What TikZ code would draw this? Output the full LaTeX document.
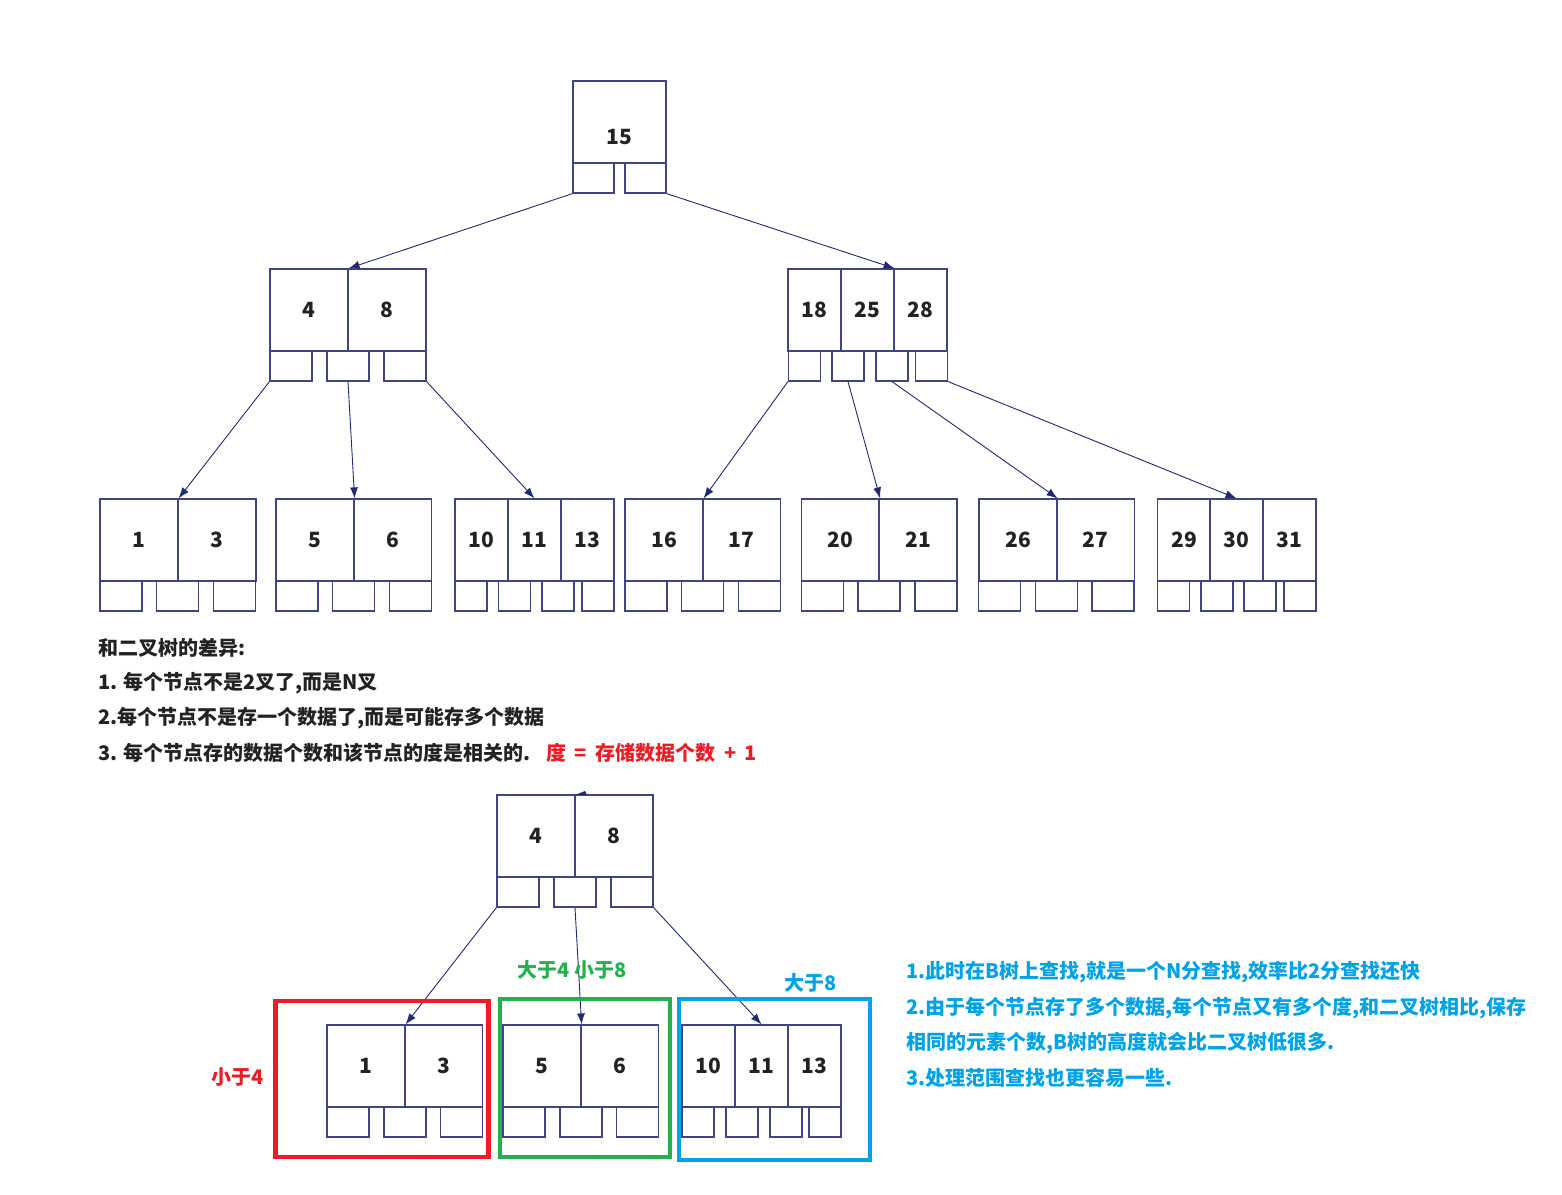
\documentclass[tikz,border=0pt]{standalone}
\usepackage{fontspec}
\setmainfont{Noto Sans CJK SC}
\usetikzlibrary{arrows.meta}

\definecolor{boxline}{RGB}{62,68,132}
\definecolor{arrowline}{RGB}{32,42,112}
\definecolor{ink}{RGB}{34,34,34}
\definecolor{mred}{RGB}{237,28,36}
\definecolor{mgreen}{RGB}{34,177,76}
\definecolor{mblue}{RGB}{0,162,232}

\begin{document}
\begin{tikzpicture}[x=1pt, y=-1pt,
  font=\fontsize{20}{24}\selectfont\bfseries,
  keybox/.style={draw=boxline, line width=1.2pt, minimum height=82pt, inner sep=0pt,
    text=ink, font=\fontsize{21}{24}\selectfont\bfseries},
  key2/.style={keybox, minimum width=78pt},
  key3/.style={keybox, minimum width=53pt},
  subbox/.style={draw=boxline, line width=1.2pt, minimum height=30pt, inner sep=0pt},
  sub2/.style={subbox, minimum width=42pt},
  sub3/.style={subbox, minimum width=32pt},
  link/.style={draw=arrowline, line width=0.9pt, -{Latex[length=11pt,width=8pt]}},
  note/.style={anchor=west, inner sep=0pt, text=ink},
  frame/.style={line width=4.5pt}]
\useasboundingbox (0,0) rectangle (1562,1194);

% Root
\node[keybox, minimum width=93pt] (r15) at (619.5,122) {};
\node[text=ink, font=\fontsize{21}{24}\selectfont\bfseries] (t15) at ([yshift=-15pt]r15.center) {15};
\node[sub2, minimum width=41pt] (s15a) at (593.5,178) {};
\node[sub2, minimum width=41pt] (s15b) at (645.5,178) {};

% Second level, left
\node[key2] (k4) at (309,310) {4};
\node[key2] (k8) at (387,310) {8};
\node[sub2] (s48a) at (291,366) {};
\node[sub2] (s48b) at (348,366) {};
\node[sub2] (s48c) at (405,366) {};

% Second level, right
\node[key3] (k18) at (814.5,310) {18};
\node[key3] (k25) at (867.5,310) {25};
\node[key3] (k28) at (920.5,310) {28};
\node[sub3] (s1828a) at (804.5,366) {};
\node[sub3] (s1828b) at (848,366) {};
\node[sub3] (s1828c) at (892,366) {};
\node[sub3] (s1828d) at (931.5,366) {};

% Leaves
\node[key2] (k1) at (139,540) {1};
\node[key2] (k3) at (217,540) {3};
\node[sub2] (s13a) at (121,596) {};
\node[sub2] (s13b) at (177.5,596) {};
\node[sub2] (s13c) at (234.5,596) {};

\node[key2] (k5) at (315,540) {5};
\node[key2] (k6) at (392.5,540) {6};
\node[sub2] (s56a) at (297,596) {};
\node[sub2] (s56b) at (353.5,596) {};
\node[sub2] (s56c) at (410.5,596) {};

\node[key3] (k10) at (481.5,540) {10};
\node[key3] (k11) at (534.5,540) {11};
\node[key3] (k13) at (587.5,540) {13};
\node[sub3] (s1013a) at (471,596) {};
\node[sub3] (s1013b) at (514.5,596) {};
\node[sub3] (s1013c) at (558,596) {};
\node[sub3] (s1013d) at (598,596) {};

\node[key2] (k16) at (664,540) {16};
\node[key2] (k17) at (741.5,540) {17};
\node[sub2] (s1617a) at (646,596) {};
\node[sub2] (s1617b) at (702.5,596) {};
\node[sub2] (s1617c) at (759.5,596) {};

\node[key2] (k20) at (840.5,540) {20};
\node[key2] (k21) at (918,540) {21};
\node[sub2] (s2021a) at (822.5,596) {};
\node[sub2] (s2021b) at (879,596) {};
\node[sub2] (s2021c) at (936,596) {};

\node[key2] (k26) at (1018,540) {26};
\node[key2] (k27) at (1095.5,540) {27};
\node[sub2] (s2627a) at (999.5,596) {};
\node[sub2] (s2627b) at (1056.5,596) {};
\node[sub2] (s2627c) at (1113,596) {};

\node[key3] (k29) at (1184,540) {29};
\node[key3] (k30) at (1236.5,540) {30};
\node[key3] (k31) at (1289.5,540) {31};
\node[sub3] (s2931a) at (1173.5,596) {};
\node[sub3] (s2931b) at (1217,596) {};
\node[sub3] (s2931c) at (1260,596) {};
\node[sub3] (s2931d) at (1300,596) {};

% Arrows
\draw[link] (s15a.south west) -- (k4.north east);
\draw[link] (s15b.south east) -- (k25.north east);
\draw[link] (s48a.south west) -- (k1.north east);
\draw[link] (s48b.south) -- (k5.north east);
\draw[link] (s48c.south east) -- (k11.north);
\draw[link] (s1828a.south west) -- (k16.north east);
\draw[link] (s1828b.south) -- (k20.north east);
\draw[link] (s1828c.south) -- (k26.north east);
\draw[link] (s1828d.south east) -- (k30.north);

% Differences
\node[note] (d0) at (98,648) {和二叉树的差异:};
\node[note] (d1) at (98,683) {1. 每个节点不是2叉了,而是N叉};
\node[note] (d2) at (98,718) {2.每个节点不是存一个数据了,而是可能存多个数据};
\node[note] (d3) at (98,753) {3. 每个节点存的数据个数和该节点的度是相关的.};
\node[note, text=mred] (d3r) at (546,753) {度\hspace{4pt} = \hspace{4pt}存储数据个数\hspace{4pt} + \hspace{4pt}1};

% Lower example
\node[key2] (bk4) at (536,836) {4};
\node[key2] (bk8) at (614,836) {8};
\node[sub2] (bs48a) at (518,892) {};
\node[sub2] (bs48b) at (575,892) {};
\node[sub2] (bs48c) at (632,892) {};
\fill[arrowline] (575,795) -- (585,791) -- (587,795) -- cycle;

\node[key2] (bk1) at (366,1066) {1};
\node[key2] (bk3) at (443.5,1066) {3};
\node[sub2] (bs13a) at (348,1122) {};
\node[sub2] (bs13b) at (405,1122) {};
\node[sub2] (bs13c) at (461.5,1122) {};

\node[key2] (bk5) at (542,1066) {5};
\node[key2] (bk6) at (619.5,1066) {6};
\node[sub2] (bs56a) at (524,1122) {};
\node[sub2] (bs56b) at (581,1122) {};
\node[sub2] (bs56c) at (637.5,1122) {};

\node[key3] (bk10) at (708.5,1066) {10};
\node[key3] (bk11) at (761.5,1066) {11};
\node[key3] (bk13) at (814.5,1066) {13};
\node[sub3] (bs1013a) at (698,1122) {};
\node[sub3] (bs1013b) at (742,1122) {};
\node[sub3] (bs1013c) at (786,1122) {};
\node[sub3] (bs1013d) at (825,1122) {};

\draw[link] (bs48a.south west) -- (bk1.north east);
\draw[link] (bs48b.south) -- (bk5.north east);
\draw[link] (bs48c.south east) -- (bk11.north);

% Ranges
\draw[frame, draw=mred] (275.5,1001) rectangle (488.5,1157);
\draw[frame, draw=mgreen] (500,999) rectangle (670,1157);
\draw[frame, draw=mblue] (679,999) rectangle (870,1160);
\node[text=mred] (lt4) at (238,1077) {小于4};
\node[text=mgreen] (btw) at (572,970) {大于4 小于8};
\node[text=mblue] (gt8) at (811,983) {大于8};

% Remarks
\node[note, text=mblue] (m1) at (906,972) {1.此时在B树上查找,就是一个N分查找,效率比2分查找还快};
\node[note, text=mblue] (m2) at (906,1008) {2.由于每个节点存了多个数据,每个节点又有多个度,和二叉树相比,保存};
\node[note, text=mblue] (m3) at (906,1043) {相同的元素个数,B树的高度就会比二叉树低很多.};
\node[note, text=mblue] (m4) at (906,1078) {3.处理范围查找也更容易一些.};
\end{tikzpicture}
\end{document}
